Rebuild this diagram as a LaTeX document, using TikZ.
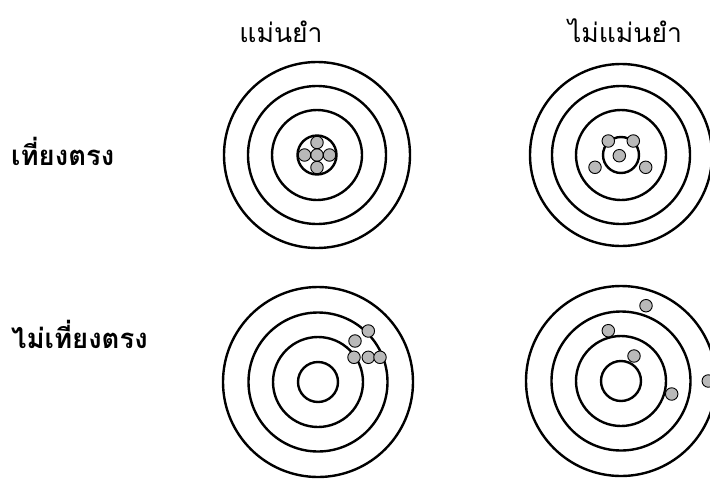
\documentclass[tikz,border=0pt]{standalone}
\usepackage{fontspec}
\newfontfamily\thaifont[Script=Thai]{Loma}
\begin{document}
\begin{tikzpicture}[x=1pt,y=-1pt,
  ring/.style={circle, draw, line width=2.4pt, inner sep=0pt, minimum size=#1},
  shot/.style={circle, draw, fill=gray!55, line width=0.9pt, inner sep=0pt, minimum size=12.5pt},
  toplabel/.style={font=\thaifont\fontsize{26.5}{30}\selectfont, inner sep=0pt, anchor=base},
  sidelabel/.style={font=\thaifont\bfseries\fontsize{27.5}{30}\selectfont, inner sep=0pt, anchor=base west}]
\useasboundingbox (0,0) rectangle (710,480);
\fill[white] (0,0) rectangle (710,480);
% labels
\node[toplabel] (acc) at (281,42) {แม่นยำ};
\node[toplabel] (inacc) at (625,42) {ไม่แม่นยำ};
\node[sidelabel] (prec) at (11,165) {เที่ยงตรง};
\node[sidelabel] (imprec) at (11,348) {ไม่เที่ยงตรง};
% target 1: accurate, precise
\begin{scope}[shift={(317,155)}]
  \node[ring=186pt] (a1) at (0,0) {};
  \node[ring=138pt] (a2) at (0,0) {};
  \node[ring=90pt] (a3) at (0,0) {};
  \node[ring=39pt] (a4) at (0,0) {};
  \node[shot] (a5) at (0,0) {};
  \node[shot] (a6) at (0,-12.5) {};
  \node[shot] (a7) at (0,12.5) {};
  \node[shot] (a8) at (-12.5,0) {};
  \node[shot] (a9) at (12.5,0) {};
\end{scope}
% target 2: not accurate, precise
\begin{scope}[shift={(621,155)}]
  \node[ring=182pt] (b1) at (0,0) {};
  \node[ring=138pt] (b2) at (0,0) {};
  \node[ring=90pt] (b3) at (0,0) {};
  \node[ring=36pt] (b4) at (0,0) {};
  \node[shot] (b5) at (-12.7,-14) {};
  \node[shot] (b6) at (12.3,-14) {};
  \node[shot] (b7) at (-1.7,0.7) {};
  \node[shot] (b8) at (-26,12.3) {};
  \node[shot] (b9) at (24.7,12.3) {};
\end{scope}
% target 3: accurate, not precise
\begin{scope}[shift={(318,382)}]
  \node[ring=190pt] (c1) at (0,0) {};
  \node[ring=139pt] (c2) at (0,0) {};
  \node[ring=90pt] (c3) at (0,0) {};
  \node[ring=40pt] (c4) at (0,0) {};
  \node[shot] (c5) at (50.3,-51) {};
  \node[shot] (c6) at (37,-41) {};
  \node[shot] (c7) at (36,-24.7) {};
  \node[shot] (c8) at (50.3,-24.7) {};
  \node[shot] (c9) at (62,-24.7) {};
\end{scope}
% target 4: not accurate, not precise
\begin{scope}[shift={(621,381)}]
  \node[ring=190pt] (d1) at (0,0) {};
  \node[ring=139pt] (d2) at (0,0) {};
  \node[ring=90pt] (d3) at (0,0) {};
  \node[ring=40pt] (d4) at (0,0) {};
  \node[shot] (d5) at (25,-75.3) {};
  \node[shot] (d6) at (-12.7,-50.3) {};
  \node[shot] (d7) at (13,-25) {};
  \node[shot] (d8) at (50.7,13) {};
  \node[shot] (d9) at (87.3,0) {};
\end{scope}
\end{tikzpicture}
\end{document}
